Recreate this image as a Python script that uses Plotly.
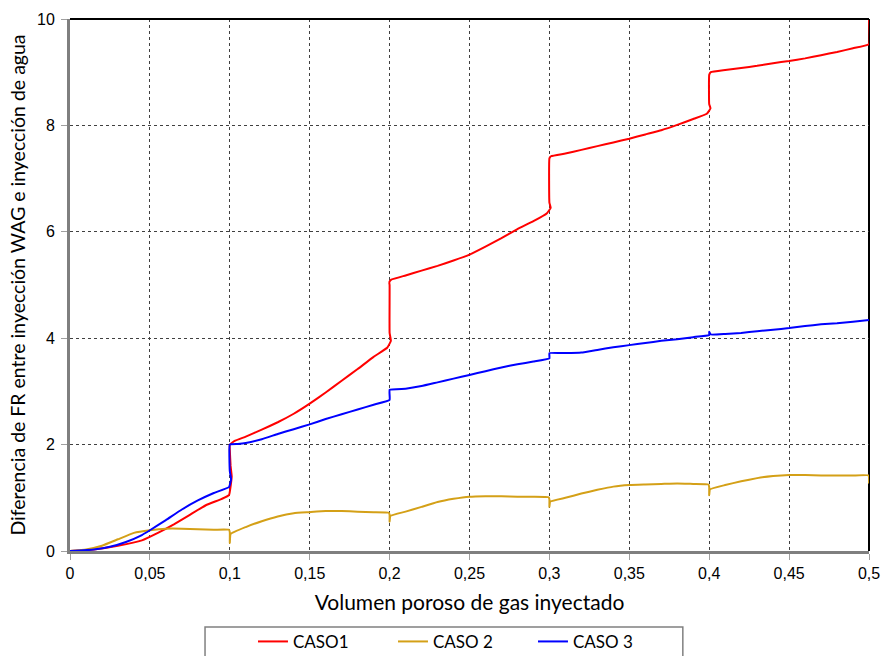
import plotly.graph_objects as go

# ---------------- data ----------------
x_caso1 = [0, 0.015, 0.03, 0.045, 0.055, 0.065, 0.075, 0.085, 0.095, 0.0995, 0.1012, 0.1005, 0.1, 0.1,
           0.103, 0.11, 0.12, 0.13, 0.14, 0.15, 0.16, 0.17, 0.18, 0.19, 0.1985, 0.2008, 0.2, 0.2,
           0.1998, 0.201, 0.21, 0.22, 0.23, 0.24, 0.25, 0.26, 0.27, 0.28, 0.29, 0.2985, 0.3008, 0.3,
           0.3, 0.301, 0.31, 0.32, 0.33, 0.34, 0.35, 0.36, 0.37, 0.38, 0.39, 0.3985, 0.4008, 0.4, 0.4,
           0.401, 0.41, 0.42, 0.43, 0.44, 0.45, 0.46, 0.47, 0.48, 0.49, 0.5, 0.5]
y_caso1 = [0, 0.03, 0.1, 0.2, 0.34, 0.5, 0.68, 0.86, 0.98, 1.05, 1.4, 1.6, 1.9, 2.0,
           2.07, 2.15, 2.28, 2.42, 2.58, 2.77, 2.98, 3.2, 3.42, 3.65, 3.82, 3.95, 4.1, 5.0,
           5.05, 5.1, 5.18, 5.27, 5.36, 5.46, 5.57, 5.72, 5.88, 6.05, 6.2, 6.35, 6.45, 6.55,
           7.38, 7.42, 7.47, 7.54, 7.61, 7.68, 7.75, 7.83, 7.91, 8.01, 8.12, 8.22, 8.32, 8.4, 8.95,
           9.0, 9.04, 9.08, 9.12, 9.17, 9.21, 9.26, 9.32, 9.38, 9.45, 9.53, 10.0]

x_caso2 = [0, 0.01, 0.02, 0.03, 0.04, 0.05, 0.06, 0.07, 0.08, 0.09, 0.0995, 0.1, 0.1, 0.1005,
           0.11, 0.12, 0.13, 0.14, 0.15, 0.16, 0.17, 0.18, 0.19, 0.1995, 0.2, 0.2, 0.2005,
           0.21, 0.22, 0.23, 0.24, 0.25, 0.26, 0.27, 0.28, 0.29, 0.2995, 0.3, 0.3, 0.3005,
           0.31, 0.32, 0.33, 0.34, 0.35, 0.36, 0.37, 0.38, 0.39, 0.3995, 0.4, 0.4, 0.4005,
           0.41, 0.42, 0.43, 0.44, 0.45, 0.46, 0.47, 0.48, 0.49, 0.4998, 0.5]
y_caso2 = [0, 0.03, 0.1, 0.22, 0.34, 0.39, 0.42, 0.42, 0.41, 0.4, 0.4, 0.35, 0.15, 0.32,
           0.45, 0.56, 0.65, 0.71, 0.73, 0.75, 0.75, 0.74, 0.73, 0.72, 0.68, 0.55, 0.66,
           0.74, 0.83, 0.92, 0.98, 1.02, 1.03, 1.03, 1.02, 1.02, 1.01, 0.97, 0.83, 0.93,
           1.0, 1.08, 1.15, 1.21, 1.24, 1.25, 1.26, 1.27, 1.26, 1.25, 1.2, 1.05, 1.16,
           1.24, 1.31, 1.37, 1.41, 1.43, 1.43, 1.42, 1.42, 1.42, 1.42, 1.27]

x_caso3 = [0, 0.015, 0.025, 0.035, 0.045, 0.05, 0.06, 0.07, 0.08, 0.09, 0.0995, 0.1008, 0.1, 0.1,
           0.105, 0.11, 0.12, 0.13, 0.14, 0.15, 0.16, 0.17, 0.18, 0.19, 0.2, 0.2,
           0.21, 0.22, 0.23, 0.24, 0.25, 0.26, 0.27, 0.28, 0.29, 0.3, 0.3,
           0.31, 0.32, 0.33, 0.34, 0.35, 0.36, 0.37, 0.38, 0.39, 0.4, 0.4, 0.401,
           0.41, 0.42, 0.43, 0.44, 0.45, 0.46, 0.47, 0.48, 0.49, 0.5]
y_caso3 = [0, 0.03, 0.08, 0.17, 0.3, 0.39, 0.58, 0.78, 0.95, 1.09, 1.2, 1.35, 1.5, 2.0,
           2.01, 2.03, 2.1, 2.2, 2.29, 2.38, 2.48, 2.57, 2.66, 2.75, 2.84, 3.03,
           3.05, 3.1, 3.17, 3.24, 3.31, 3.38, 3.45, 3.51, 3.56, 3.62, 3.72,
           3.72, 3.73, 3.78, 3.83, 3.87, 3.91, 3.95, 3.98, 4.02, 4.06, 4.12, 4.07,
           4.08, 4.1, 4.13, 4.16, 4.19, 4.23, 4.26, 4.28, 4.31, 4.34]

series_names = ["CASO1", "CASO 2", "CASO 3"]
series_colors = ["#FF0000", "#D4A017", "#0000FF"]

x_tick_vals = [0, 0.05, 0.1, 0.15, 0.2, 0.25, 0.3, 0.35, 0.4, 0.45, 0.5]
x_tick_labels = ["0", "0,05", "0,1", "0,15", "0,2", "0,25", "0,3", "0,35", "0,4", "0,45", "0,5"]
y_tick_vals = [0, 2, 4, 6, 8, 10]
y_tick_labels = ["0", "2", "4", "6", "8", "10"]

x_title = "Volumen poroso de gas inyectado"
y_title = "Diferencia de FR entre inyección WAG e inyección de agua"

# ---------------- figure ----------------
fig = go.Figure()
for xs, ys, name, col in zip([x_caso1, x_caso2, x_caso3], [y_caso1, y_caso2, y_caso3],
                             series_names, series_colors):
    fig.add_trace(go.Scatter(x=xs, y=ys, mode="lines", name=name,
                             line=dict(color=col, width=2), line_shape="spline",
                             line_smoothing=0.3))

tick_font = dict(family="Liberation Sans, Arial, sans-serif", size=16, color="#000000")

fig.update_layout(
    width=882, height=656,
    margin=dict(l=70, r=13, t=19, b=105, autoexpand=False),
    paper_bgcolor="white", plot_bgcolor="white",
    showlegend=True,
    legend=dict(orientation="h", x=0.229, xanchor="left", y=-0.137, yanchor="top",
                entrywidth=95, entrywidthmode="pixels",
                font=dict(family="Lato, Open Sans, sans-serif", size=17, color="#000000"),
                bgcolor="rgba(0,0,0,0)", borderwidth=0, tracegroupgap=0),
    xaxis=dict(range=[0, 0.5], tickvals=x_tick_vals, ticktext=x_tick_labels,
               showgrid=True, gridcolor="#404040", griddash="3px,3px", gridwidth=1,
               showline=True, linecolor="#7F7F7F", linewidth=3,
               ticks="outside", ticklen=6, tickcolor="#9F9F9F", tickwidth=1,
               tickfont=tick_font, zeroline=False, automargin=False,
               title=dict(text=x_title, standoff=15,
                          font=dict(family="Lato, Open Sans, sans-serif", size=21, color="#000000"))),
    yaxis=dict(range=[0, 10], tickvals=y_tick_vals, ticktext=y_tick_labels,
               showgrid=True, gridcolor="#404040", griddash="3px,3px", gridwidth=1,
               showline=True, linecolor="#7F7F7F", linewidth=3,
               ticks="outside", ticklen=6, tickcolor="#9F9F9F", tickwidth=1,
               tickfont=tick_font, zeroline=False, ticklabelstandoff=3, automargin=False,
               title=dict(text=y_title, standoff=7,
                          font=dict(family="Lato, Open Sans, sans-serif", size=19.5, color="#000000"))),
    shapes=[
        dict(type="line", xref="paper", yref="paper", x0=0, x1=1, y0=1, y1=1,
             line=dict(color="#000000", width=2), layer="above"),
        dict(type="line", xref="paper", yref="paper", x0=1, x1=1, y0=0, y1=1,
             line=dict(color="#000000", width=2), layer="below"),
        dict(type="rect", xref="paper", yref="paper", x0=0.169, x1=0.767, y0=-0.215, y1=-0.143,
             line=dict(color="#808080", width=1.5), fillcolor="rgba(0,0,0,0)"),
    ],
)

fig.write_html("out.html", config={"displayModeBar": False},
               post_script="document.body.style.margin='0';document.body.style.overflow='hidden';")
